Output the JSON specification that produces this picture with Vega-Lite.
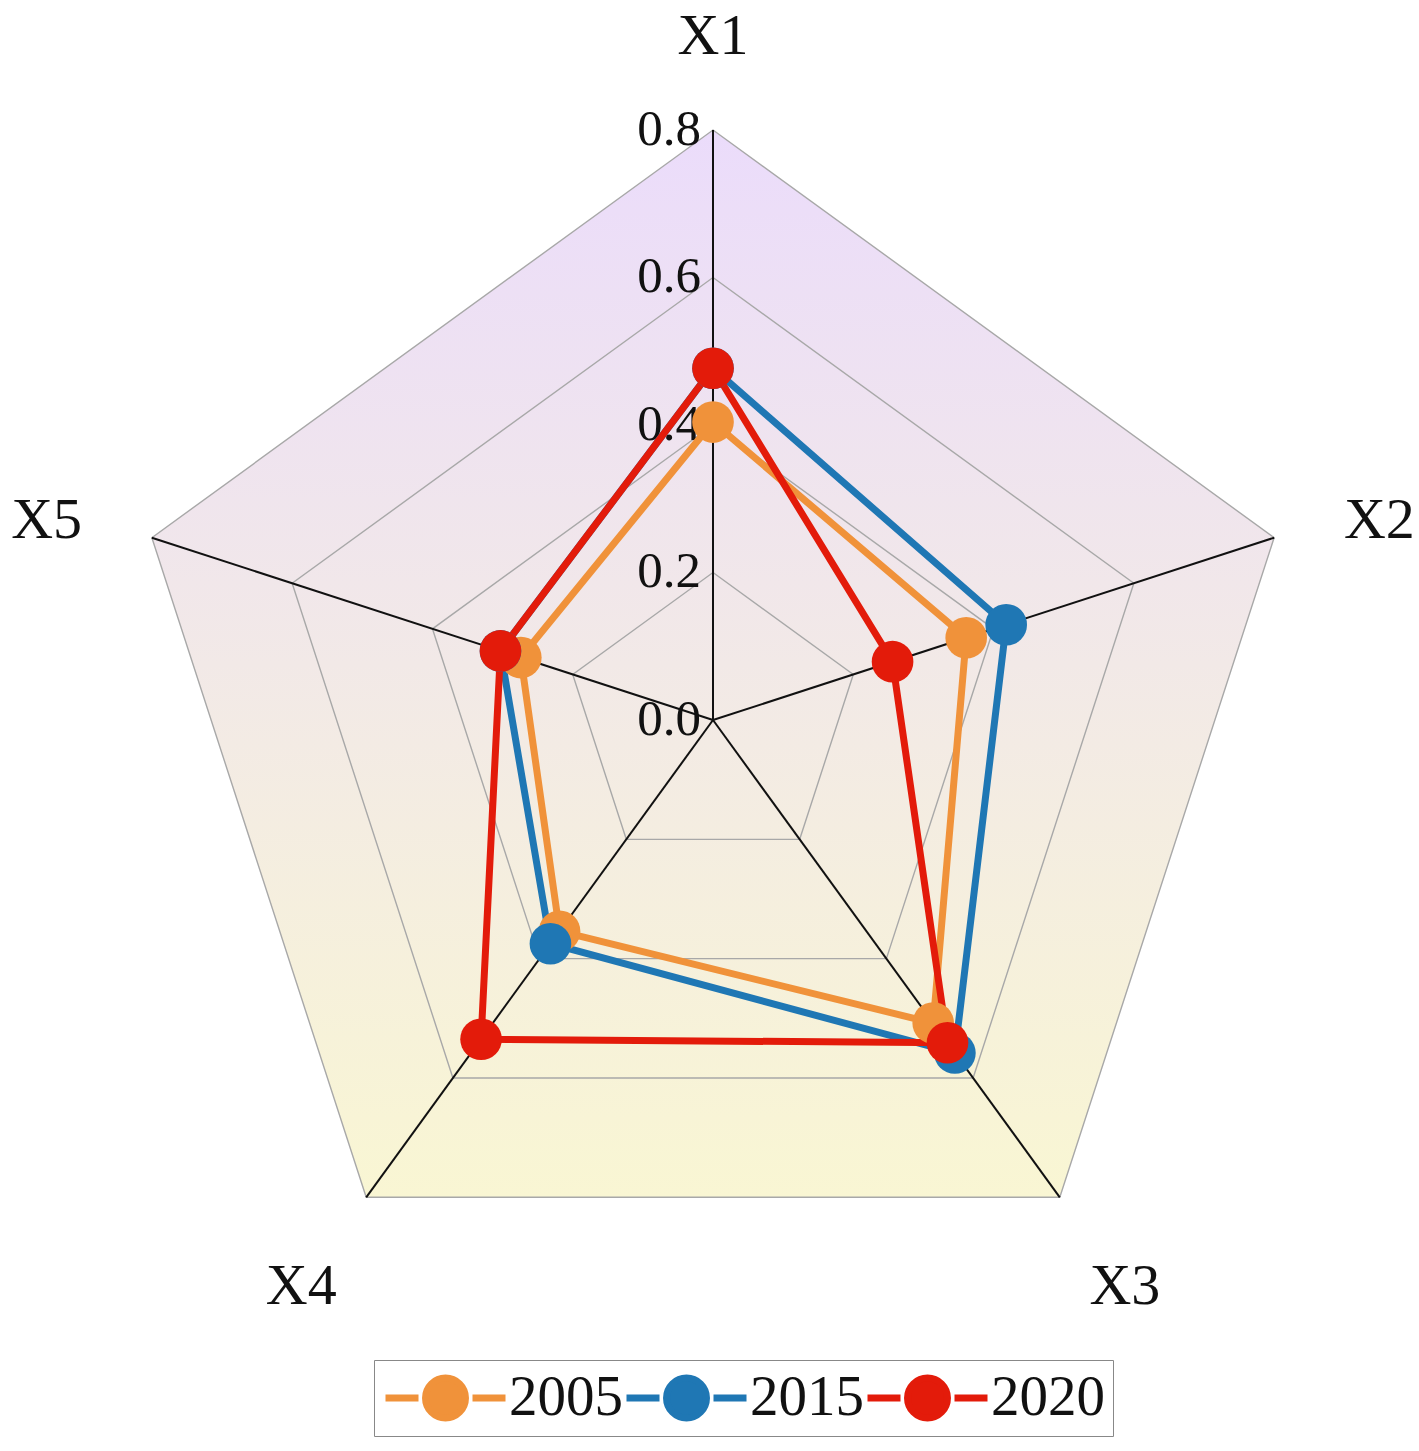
{
  "$schema": "https://vega.github.io/schema/vega-lite/v6.json",
  "width": 1419,
  "height": 1451,
  "autosize": "none",
  "padding": 0,
  "background": "white",
  "config": {"view": {"stroke": null}},
  "datasets": {
    "axes": [
      {"axis": "X1", "idx": 0, "levels": [0.2, 0.4, 0.6, 0.8], "ends": [0, 0.8]},
      {"axis": "X2", "idx": 1, "levels": [0.2, 0.4, 0.6, 0.8], "ends": [0, 0.8]},
      {"axis": "X3", "idx": 2, "levels": [0.2, 0.4, 0.6, 0.8], "ends": [0, 0.8]},
      {"axis": "X4", "idx": 3, "levels": [0.2, 0.4, 0.6, 0.8], "ends": [0, 0.8]},
      {"axis": "X5", "idx": 4, "levels": [0.2, 0.4, 0.6, 0.8], "ends": [0, 0.8]}
    ],
    "ticks": [
      {"level": 0.0, "lab": "0.0"},
      {"level": 0.2, "lab": "0.2"},
      {"level": 0.4, "lab": "0.4"},
      {"level": 0.6, "lab": "0.6"},
      {"level": 0.8, "lab": "0.8"}
    ],
    "series": [
      {"year": "2005", "axis": "X1", "idx": 0, "value": 0.404},
      {"year": "2005", "axis": "X2", "idx": 1, "value": 0.361},
      {"year": "2005", "axis": "X3", "idx": 2, "value": 0.508},
      {"year": "2005", "axis": "X4", "idx": 3, "value": 0.354},
      {"year": "2005", "axis": "X5", "idx": 4, "value": 0.274},
      {"year": "2015", "axis": "X1", "idx": 0, "value": 0.477},
      {"year": "2015", "axis": "X2", "idx": 1, "value": 0.418},
      {"year": "2015", "axis": "X3", "idx": 2, "value": 0.558},
      {"year": "2015", "axis": "X4", "idx": 3, "value": 0.375},
      {"year": "2015", "axis": "X5", "idx": 4, "value": 0.303},
      {"year": "2020", "axis": "X1", "idx": 0, "value": 0.477},
      {"year": "2020", "axis": "X2", "idx": 1, "value": 0.256},
      {"year": "2020", "axis": "X3", "idx": 2, "value": 0.541},
      {"year": "2020", "axis": "X4", "idx": 3, "value": 0.535},
      {"year": "2020", "axis": "X5", "idx": 4, "value": 0.303}
    ]
  },
  "layer": [
    {
      "data": {"name": "axes"},
      "transform": [
        {"calculate": "PI/2 - datum.idx*2*PI/5", "as": "ang"},
        {"calculate": "0.8*cos(datum.ang)", "as": "px"},
        {"calculate": "0.8*sin(datum.ang)", "as": "py"}
      ],
      "mark": {
        "type": "line",
        "interpolate": "linear-closed",
        "strokeOpacity": 0,
        "fill": {
          "gradient": "linear",
          "x1": 0, "y1": 0, "x2": 0, "y2": 1,
          "stops": [
            {"offset": 0, "color": "#ebdcfb"},
            {"offset": 1, "color": "#f9f6d3"}
          ]
        }
      },
      "encoding": {
        "x": {"field": "px", "type": "quantitative", "scale": {"domain": [-0.96678, 0.95729], "nice": false, "zero": false}, "axis": null},
        "y": {"field": "py", "type": "quantitative", "scale": {"domain": [-0.99119, 0.97627], "nice": false, "zero": false}, "axis": null},
        "order": {"field": "idx", "type": "quantitative"}
      }
    },
    {
      "data": {"name": "axes"},
      "transform": [
        {"flatten": ["levels"], "as": ["level"]},
        {"calculate": "PI/2 - datum.idx*2*PI/5", "as": "ang"},
        {"calculate": "datum.level*cos(datum.ang)", "as": "px"},
        {"calculate": "datum.level*sin(datum.ang)", "as": "py"}
      ],
      "mark": {"type": "line", "interpolate": "linear-closed", "stroke": "#a8a8a8", "strokeWidth": 1.4},
      "encoding": {
        "x": {"field": "px", "type": "quantitative"},
        "y": {"field": "py", "type": "quantitative"},
        "detail": {"field": "level", "type": "nominal"},
        "order": {"field": "idx", "type": "quantitative"}
      }
    },
    {
      "data": {"name": "axes"},
      "transform": [
        {"flatten": ["ends"], "as": ["r"]},
        {"calculate": "PI/2 - datum.idx*2*PI/5", "as": "ang"},
        {"calculate": "datum.r*cos(datum.ang)", "as": "px"},
        {"calculate": "datum.r*sin(datum.ang)", "as": "py"}
      ],
      "mark": {"type": "line", "stroke": "#111111", "strokeWidth": 2},
      "encoding": {
        "x": {"field": "px", "type": "quantitative"},
        "y": {"field": "py", "type": "quantitative"},
        "detail": {"field": "axis", "type": "nominal"},
        "order": {"field": "r", "type": "quantitative"}
      }
    },
    {
      "data": {"name": "ticks"},
      "transform": [
        {"calculate": "datum.level*cos(PI/2)", "as": "px"},
        {"calculate": "datum.level*sin(PI/2)", "as": "py"}
      ],
      "mark": {"type": "text", "align": "right", "baseline": "middle", "dx": -12, "font": "Liberation Serif", "fontSize": 51, "color": "#111111"},
      "encoding": {
        "x": {"field": "px", "type": "quantitative"},
        "y": {"field": "py", "type": "quantitative"},
        "text": {"field": "lab", "type": "nominal"}
      }
    },
    {
      "data": {"name": "axes"},
      "transform": [
        {"calculate": "PI/2 - datum.idx*2*PI/5", "as": "ang"},
        {"calculate": "0.95*cos(datum.ang)", "as": "lx"},
        {"calculate": "0.95*sin(datum.ang) - (sin(datum.ang) > -0.5 ? 0.024 : 0)", "as": "ly"}
      ],
      "mark": {"type": "text", "align": "center", "baseline": "middle", "font": "Liberation Serif", "fontSize": 58, "color": "#111111"},
      "encoding": {
        "x": {"field": "lx", "type": "quantitative"},
        "y": {"field": "ly", "type": "quantitative"},
        "text": {"field": "axis", "type": "nominal"}
      }
    },
    {
      "data": {"name": "series"},
      "transform": [
        {"calculate": "PI/2 - datum.idx*2*PI/5", "as": "ang"},
        {"calculate": "datum.value*cos(datum.ang)", "as": "px"},
        {"calculate": "datum.value*sin(datum.ang)", "as": "py"}
      ],
      "mark": {
        "type": "line",
        "interpolate": "linear-closed",
        "strokeWidth": 7,
        "point": {"filled": true, "size": 1735, "opacity": 1}
      },
      "encoding": {
        "x": {"field": "px", "type": "quantitative"},
        "y": {"field": "py", "type": "quantitative"},
        "order": {"field": "idx", "type": "quantitative"},
        "color": {
          "field": "year",
          "type": "nominal",
          "scale": {"domain": ["2005", "2015", "2020"], "range": ["#f0923a", "#1f77b4", "#e31b0a"]},
          "legend": {
            "title": null,
            "orient": "none",
            "legendX": 374,
            "legendY": 1360,
            "direction": "horizontal",
            "symbolType": "M-1,0L-0.45,0M0.45,0L1,0M-0.333,0A0.333,0.333,0,1,1,0.333,0A0.333,0.333,0,1,1,-0.333,0Z",
            "symbolSize": 14400,
            "symbolStrokeWidth": 7,
            "clipHeight": 60,
            "labelFont": "Liberation Serif",
            "labelFontSize": 57,
            "labelColor": "#111111",
            "labelOffset": 0,
            "labelLimit": 0,
            "columnPadding": -12,
            "strokeColor": "#888888",
            "padding": 8
          }
        }
      }
    }
  ]
}
